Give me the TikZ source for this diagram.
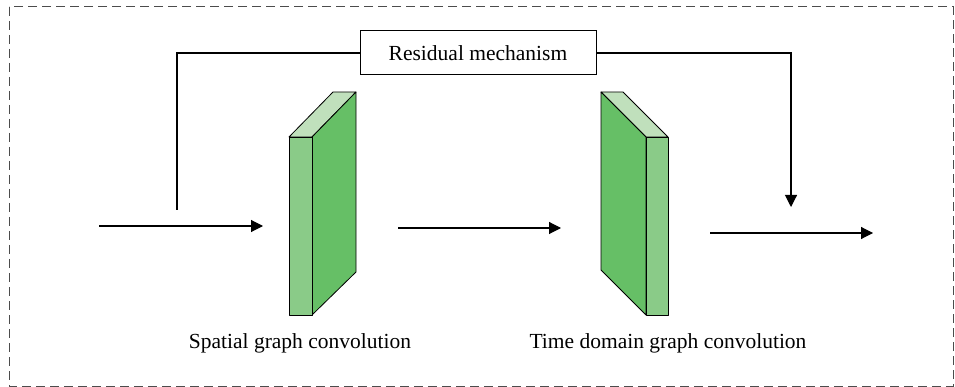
\documentclass[tikz,border=0pt]{standalone}
\usepackage{fontspec}
\setmainfont{Liberation Serif}
\usetikzlibrary{arrows.meta}
\definecolor{facelight}{HTML}{8ACB88}
\definecolor{facedark}{HTML}{66BF66}
\definecolor{facetop}{HTML}{C0E0BC}

\begin{document}
\begin{tikzpicture}[x=1pt, y=-1pt,
    flow/.style={line width=1.1pt, -{Triangle[length=12pt,width=12pt]}},
    face/.style={draw=black, line width=.8pt, line join=round},
    lbl/.style={font=\fontsize{21.5}{25}\selectfont}]
    \useasboundingbox (0,0) rectangle (955,387);
    \draw[gray!60!black, line width=1pt, dash pattern=on 9pt off 5pt] (9,7) rectangle (953,386);

    % spatial graph convolution block
    \draw[face, fill=facetop] (289,137) -- (333,92) -- (356,92) -- (312,137) -- cycle;
    \draw[face, fill=facedark] (312,137) -- (356,92) -- (356,272) -- (312,315) -- cycle;
    \draw[face, fill=facelight] (289,137) rectangle (312,315);

    % time domain graph convolution block
    \draw[face, fill=facetop] (601,92) -- (623,92) -- (668,137) -- (646,137) -- cycle;
    \draw[face, fill=facedark] (601,92) -- (646,137) -- (646,315) -- (601,270) -- cycle;
    \draw[face, fill=facelight] (646,137) rectangle (668,315);

    \node[lbl] (sgc) at (300,343) {Spatial graph convolution};
    \node[lbl] (tdc) at (668,343) {Time domain graph convolution};
    \node[draw, line width=1pt, minimum width=236pt, minimum height=44pt, lbl] (res) at (478,53) {Residual mechanism};

    \coordinate (in) at (99,226);
    \coordinate (sgcin) at (263,226);
    \coordinate (sgcout) at (398,228);
    \coordinate (tdcin) at (561,228);
    \coordinate (tdcout) at (710,233);
    \coordinate (out) at (873,233);
    \coordinate (skip) at (177,210);
    \coordinate (merge) at (791,207);

    \draw[flow] (in) -- (sgcin);
    \draw[flow] (sgcout) -- (tdcin);
    \draw[flow] (tdcout) -- (out);
    \draw[line width=1.1pt] (skip) |- (res.west);
    \draw[flow] (res.east) -| (merge);
\end{tikzpicture}
\end{document}
